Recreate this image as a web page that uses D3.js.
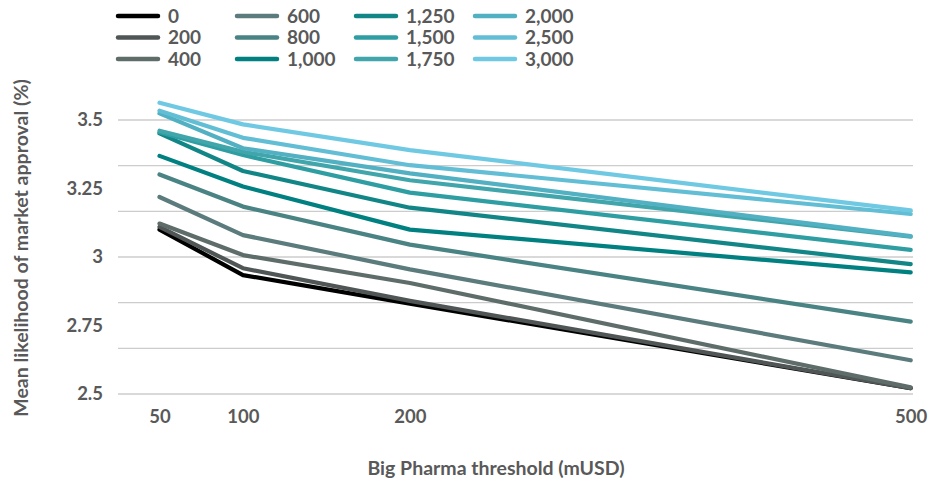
<!DOCTYPE html>
<html>
<head>
<meta charset="utf-8">
<script src="https://cdn.jsdelivr.net/npm/d3@7"></script>
<style>
  html, body { margin: 0; padding: 0; background: #fff; }
  svg { display: block; font-family: Lato, "Open Sans", sans-serif; font-weight: 700; }
</style>
</head>
<body>
<svg id="chart" width="928" height="486"></svg>
<script>
// ---- data ----
const thresholds = [50, 100, 200, 500];
const seriesNames = ["0", "200", "400", "600", "800", "1,000", "1,250", "1,500", "1,750", "2,000", "2,500", "3,000"];
const s0    = [3.100, 2.934, 2.830, 2.521];
const s200  = [3.110, 2.959, 2.840, 2.521];
const s400  = [3.122, 3.007, 2.905, 2.524];
const s600  = [3.219, 3.080, 2.955, 2.623];
const s800  = [3.301, 3.184, 3.045, 2.764];
const s1000 = [3.369, 3.257, 3.100, 2.944];
const s1250 = [3.451, 3.314, 3.180, 2.974];
const s1500 = [3.455, 3.372, 3.235, 3.026];
const s1750 = [3.461, 3.384, 3.280, 3.074];
const s2000 = [3.524, 3.397, 3.305, 3.076];
const s2500 = [3.534, 3.435, 3.335, 3.157];
const s3000 = [3.563, 3.484, 3.390, 3.170];
const seriesValues = [s0, s200, s400, s600, s800, s1000, s1250, s1500, s1750, s2000, s2500, s3000];
const colors = ["#000000", "#4f5655", "#5e6d6a", "#5b7b7c", "#4a8383", "#008080",
                "#128686", "#2e9ea3", "#41a6ab", "#52b0c3", "#62bed5", "#70c9e2"];
const yTickLabels = [2.5, 2.75, 3, 3.25, 3.5];
const yGridValues = [2.5, 2.5 + 1/6, 2.5 + 2/6, 3, 2.5 + 4/6, 2.5 + 5/6, 3.5];

// ---- layout ----
const svg = d3.select("#chart");
const textColor = "#595959";
const x = d3.scaleLinear().domain([50, 500]).range([159.5, 910.7]);
const y = d3.scaleLinear().domain([2.5, 3.5]).range([394, 120]);
const gridLeft = 118, gridRight = 913;

// gridlines
svg.append("g").selectAll("line").data(yGridValues).join("line")
  .attr("x1", gridLeft).attr("x2", gridRight)
  .attr("y1", d => y(d)).attr("y2", d => y(d))
  .attr("stroke", "#cccccc").attr("stroke-width", 1.3);

// y axis labels
const yAxis = d3.axisLeft(y).tickValues(yTickLabels).tickSize(0).tickPadding(0)
  .tickFormat(d => String(d));
const gy = svg.append("g").attr("transform", "translate(103,0)").call(yAxis);
gy.select(".domain").remove();
gy.selectAll("text").attr("fill", textColor).attr("font-size", 18.5)
  .attr("font-family", "Lato, sans-serif").attr("font-weight", 700);

// x axis labels
const xAxis = d3.axisBottom(x).tickValues(thresholds).tickSize(0).tickPadding(0)
  .tickFormat(d => String(d));
const gx = svg.append("g").attr("transform", "translate(0,410)").call(xAxis);
gx.select(".domain").remove();
gx.selectAll("text").attr("fill", textColor).attr("font-size", 18.5)
  .attr("font-family", "Lato, sans-serif").attr("font-weight", 700);

// axis titles
svg.append("text")
  .attr("transform", "translate(28,248) rotate(-90)")
  .attr("text-anchor", "middle").attr("fill", textColor)
  .attr("font-size", 19.5).text("Mean likelihood of market approval (%)");
svg.append("text")
  .attr("x", 496).attr("y", 475)
  .attr("text-anchor", "middle").attr("fill", textColor)
  .attr("font-size", 19.5).text("Big Pharma threshold (mUSD)");

// lines
const line = d3.line().x((d, i) => x(thresholds[i])).y(d => y(d));
svg.append("g").selectAll("path").data(seriesValues).join("path")
  .attr("d", d => line(d))
  .attr("fill", "none")
  .attr("stroke", (d, i) => colors[i])
  .attr("stroke-width", 4.2)
  .attr("stroke-linejoin", "round")
  .attr("stroke-linecap", "round");

// legend (column-major, 3 rows x 4 columns)
const legendColX = [118, 237, 356, 475];
const legendRowY = [16, 37.5, 59];
const lg = svg.append("g").selectAll("g").data(seriesNames).join("g")
  .attr("transform", (d, i) => `translate(${legendColX[Math.floor(i / 3)]},${legendRowY[i % 3]})`);
lg.append("line").attr("x1", 0).attr("x2", 40).attr("y1", 0).attr("y2", 0)
  .attr("stroke", (d, i) => colors[i]).attr("stroke-width", 4.5).attr("stroke-linecap", "round");
lg.append("text").attr("x", 50).attr("y", 0).attr("dy", "0.36em")
  .attr("fill", textColor).attr("font-size", 19).text(d => d);
</script>
</body>
</html>
